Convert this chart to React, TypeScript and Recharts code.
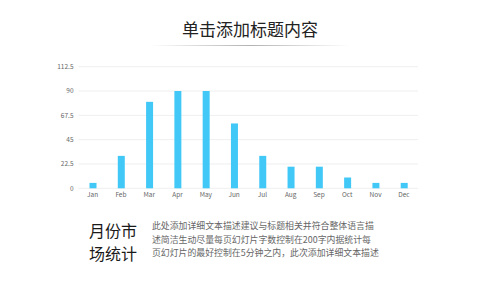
import React from 'react';
import { BarChart, Bar, XAxis, YAxis, CartesianGrid } from 'recharts';

const months = ['Jan', 'Feb', 'Mar', 'Apr', 'May', 'Jun', 'Jul', 'Aug', 'Sep', 'Oct', 'Nov', 'Dec'];
const values = [5, 30, 80, 90, 90, 60, 30, 20, 20, 10, 5, 5];
const yTicks = [0, 22.5, 45, 67.5, 90, 112.5];

const title = '单击添加标题内容';
const sideTitle = ['月份市', '场统计'];
const bodyLines = [
    '此处添加详细文本描述建议与标题相关并符合整体语言描',
    '述简洁生动尽量每页幻灯片字数控制在200字内据统计每',
    '页幻灯片的最好控制在5分钟之内，此次添加详细文本描述',
];

const FONT = '"Noto Sans CJK SC", "Noto Sans", sans-serif';

const App: React.FC = () => {
    const data = months.map((m, i) => ({ name: m, value: values[i] }));

    return (
        <div style={{ position: 'absolute', left: 0, top: 0, width: 500, height: 281, background: '#fff', fontFamily: FONT }}>
            <div style={{ position: 'absolute', top: 17, left: 0, width: 500, textAlign: 'center', fontSize: 17, color: '#222', lineHeight: '24px' }}>
                {title}
            </div>
            <div style={{
                position: 'absolute', top: 45, left: 150, width: 200, height: 1,
                background: 'linear-gradient(to right, rgba(180,180,180,0), rgba(170,170,170,0.9) 50%, rgba(180,180,180,0))',
            }} />

            <div style={{ position: 'absolute', top: 55, left: 0 }}>
                <BarChart width={500} height={165} data={data} margin={{ top: 11.7, right: 82, bottom: 11.7, left: 0 }}>
                    <CartesianGrid vertical={false} stroke="#efefef" />
                    <XAxis
                        dataKey="name"
                        axisLine={false}
                        tickLine={false}
                        tickSize={0}
                        tickMargin={4}
                        height={20}
                        tick={{ fontSize: 6.5, fill: '#666' }}
                        interval={0}
                    />
                    <YAxis
                        domain={[0, 112.5]}
                        ticks={yTicks}
                        axisLine={false}
                        tickLine={false}
                        tickSize={0}
                        tickMargin={5}
                        width={78.5}
                        tick={{ fontSize: 6.5, fill: '#666' }}
                    />
                    <Bar dataKey="value" fill="#41c8f7" barSize={7} isAnimationActive={false} />
                </BarChart>
            </div>

            <div style={{ position: 'absolute', top: 218.5, left: 89, fontSize: 16, color: '#1a1a1a', lineHeight: '23.5px' }}>
                {sideTitle.map((t) => (
                    <div key={t}>{t}</div>
                ))}
            </div>
            <div style={{ position: 'absolute', top: 219, left: 152, fontSize: 8.9, color: '#666', lineHeight: '13.5px', whiteSpace: 'nowrap' }}>
                {bodyLines.map((t) => (
                    <div key={t}>{t}</div>
                ))}
            </div>
        </div>
    );
};

export default App;
